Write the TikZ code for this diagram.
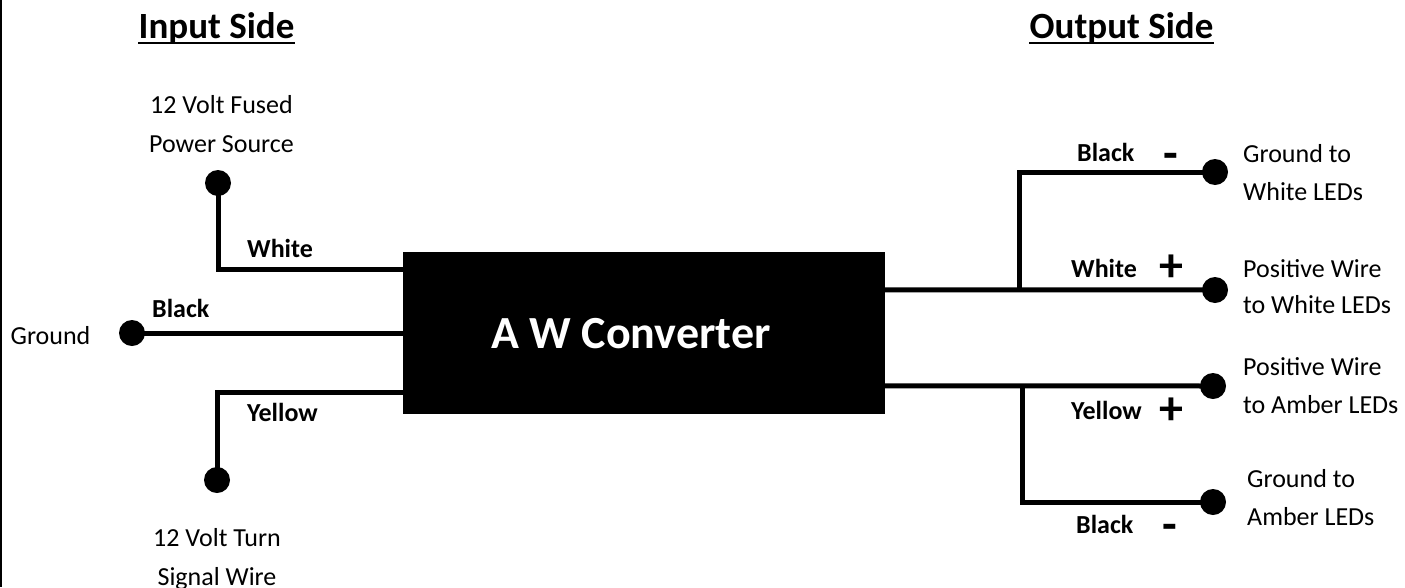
\documentclass[tikz,border=0pt]{standalone}
\usepackage{fontspec}
\setmainfont{Carlito}
\usetikzlibrary{calc}
\tikzset{
  wire/.style={line width=5pt, line join=miter},
  dot/.style={circle, fill=black, inner sep=0pt, minimum size=26pt},
  txt/.style={anchor=base, inner sep=0pt, font=\fontsize{26}{31}\selectfont},
  txtw/.style={anchor=base west, inner sep=0pt, font=\fontsize{26}{31}\selectfont},
  wlbl/.style={anchor=base west, inner sep=0pt, font=\fontsize{26}{31}\selectfont\bfseries},
  sign/.style={anchor=center, inner sep=0pt, font=\fontsize{48}{56}\selectfont\bfseries},
  title/.style={anchor=base, inner sep=0pt, font=\fontsize{37}{44}\selectfont\bfseries},
  conv/.style={fill=black, draw=none, minimum width=482pt, minimum height=162pt, inner sep=0pt}
}
\begin{document}
\begin{tikzpicture}[x=1pt,y=-1pt]
\useasboundingbox (0,0) rectangle (1405,587);
\fill[white] (0,0) rectangle (1405,587);
\draw[line width=1.5pt] (1,0) -- (1,587);

% titles
\node[title] (tin) at (216.5,38) {Input Side};
\node[title] (tout) at (1121.5,38) {Output Side};
\draw[line width=2.5pt] ([yshift=-5pt]tin.base west) -- ([yshift=-5pt]tin.base east);
\draw[line width=2.5pt] ([yshift=-5pt]tout.base west) -- ([yshift=-5pt]tout.base east);

% converter box
\node[conv] (conv) at (644,333) {};
\node[anchor=base, inner sep=0pt, text=white, font=\fontsize{46}{55}\selectfont\bfseries] (convtxt) at (631,348) {A W Converter};

% input dots
\node[dot] (fused) at (218,183) {};
\node[dot] (gnd) at (132,333) {};
\node[dot] (turn) at (217,480) {};

% input wires
\draw[wire] (fused.center) |- ($(conv.north west)+(0,18)$);
\draw[wire] (gnd.center) -- (conv.west);
\draw[wire] (turn.center) |- ($(conv.north west)+(0,141)$);

% output dots
\node[dot] (o1) at (1215,172) {};
\node[dot] (o2) at (1215,290) {};
\node[dot] (o3) at (1213,386) {};
\node[dot] (o4) at (1213,502) {};

% output wires
\coordinate (j1) at (1019,290);
\coordinate (j2) at (1022,386);
\draw[wire] ($(conv.north east)+(0,38)$) -- (o2.center);
\draw[wire] (j1) |- (o1.center);
\draw[wire] ($(conv.north east)+(0,134)$) -- (o3.center);
\draw[wire] (j2) |- (o4.center);

% input labels
\node[txt] (lf1) at (221.5,113) {12 Volt Fused};
\node[txt] (lf2) at (221.5,152) {Power Source};
\node[txt] (lg) at (50.5,344) {Ground};
\node[txt] (lt1) at (217,546) {12 Volt Turn};
\node[txt] (lt2) at (217,585) {Signal Wire};
\node[wlbl] (cw) at (247,257) {White};
\node[wlbl] (cb) at (152,317) {Black};
\node[wlbl] (cy) at (247,421) {Yellow};

% output labels
\node[wlbl] (rb1) at (1077,161) {Black};
\node[wlbl] (rw) at (1071,277) {White};
\node[wlbl] (ry) at (1071,419) {Yellow};
\node[wlbl] (rb2) at (1076,533) {Black};
\node[sign] (s1) at (1171,161) {-};
\node[sign] (s2) at (1171,268) {+};
\node[sign] (s3) at (1171,411) {+};
\node[sign] (s4) at (1170,532) {-};

\node[txtw] (r1a) at (1243,162) {Ground to};
\node[txtw] (r1b) at (1243,200) {White LEDs};
\node[txtw] (r2a) at (1243,277) {Positive Wire};
\node[txtw] (r2b) at (1243,313) {to White LEDs};
\node[txtw] (r3a) at (1243,375) {Positive Wire};
\node[txtw] (r3b) at (1243,413) {to Amber LEDs};
\node[txtw] (r4a) at (1247,487) {Ground to};
\node[txtw] (r4b) at (1247,525) {Amber LEDs};
\end{tikzpicture}
\end{document}
